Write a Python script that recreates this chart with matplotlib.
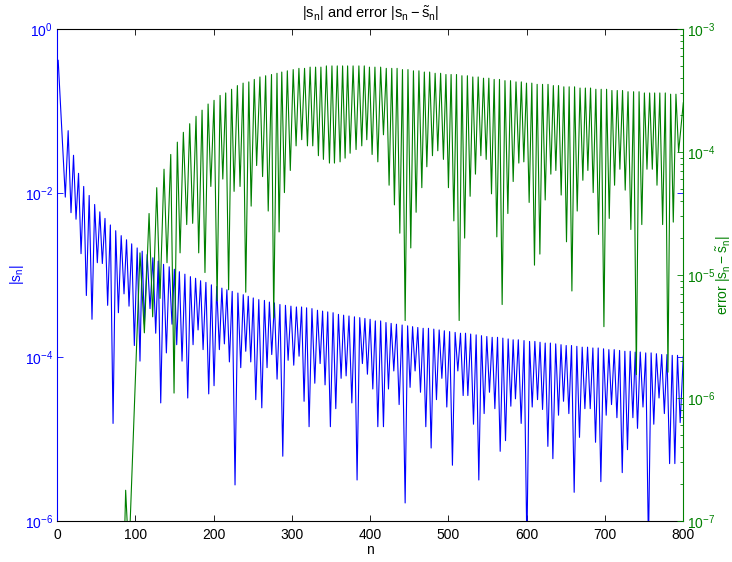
import numpy as np
import matplotlib
matplotlib.use('Agg')
import matplotlib.pyplot as plt
from matplotlib.ticker import FixedLocator, NullLocator, LogLocator, NullFormatter

plt.rcParams['font.family'] = ['Liberation Sans', 'DejaVu Sans']
plt.rcParams['mathtext.fontset'] = 'custom'
plt.rcParams['mathtext.rm'] = 'Liberation Sans'
plt.rcParams['mathtext.it'] = 'Liberation Sans'
plt.rcParams['mathtext.sf'] = 'Liberation Sans'
plt.rcParams['mathtext.bf'] = 'Liberation Sans:bold'

# ---------------- data (log10 of values) ----------------
# |s_n| : start, local minima (cusps) and local maxima between them
blue_head_n = [0.0, 1.5]
blue_head_v = [-0.45, -0.38]
blue_trough_n = [10.6, 17.9, 24.3, 30.7, 37.5, 44.7, 51.5, 57.9, 64.7, 71.6, 78.4, 85.6,
                 92.0, 98.8, 106.0, 111.6, 118.8, 126.1, 132.5, 139.7, 146.9, 152.9, 159.7, 167.0, 173.8, 180.2, 186.6, 193.8,
                 200.6, 207.4, 213.8, 220.2, 227.4, 234.7, 241.1, 247.5, 253.9, 261.6, 268.3, 274.3, 281.1, 288.4, 295.2, 302.4,
                 309.2, 315.6, 322.0, 329.3, 336.1, 342.4, 349.2, 356.1, 362.9, 369.3, 376.6, 383.3, 390.1, 396.5, 403.4, 409.8,
                 417.0, 423.4, 430.2, 437.0, 444.7, 451.0, 457.4, 464.3, 471.1, 477.9, 484.7, 491.6, 497.9, 505.1, 512.0, 518.8,
                 524.8, 532.0, 538.8, 545.6, 552.4, 559.3, 566.1, 572.9, 579.7, 585.6, 592.9, 600.2, 607.0, 613.8, 620.2, 627.0,
                 633.4, 640.6, 647.0, 653.8, 660.6, 667.4, 674.3, 681.1, 687.9, 694.7, 701.5, 708.3, 715.2, 722.0, 728.7, 735.6,
                 741.5, 748.5, 755.5, 762.3, 769.0, 775.8, 782.5, 789.2, 796.0]
blue_trough_v = [-2.05, -2.24, -2.32, -2.74, -3.25, -3.54, -2.85, -2.86, -3.37, -4.81, -3.46, -3.23,
                 -3.38, -3.86, -4.05, -3.60, -3.41, -3.71, -4.56, -3.95, -3.60, -3.85, -4.05, -4.50, -3.85, -3.67, -3.91, -4.45,
                 -4.35, -3.91, -3.84, -4.06, -5.56, -4.13, -3.93, -4.06, -4.52, -4.62, -4.13, -3.97, -4.27, -5.21, -4.04, -4.10,
                 -3.99, -4.54, -4.85, -4.32, -4.08, -4.34, -4.85, -4.63, -4.26, -4.23, -4.56, -5.50, -4.08, -4.21, -4.39, -4.85,
                 -4.85, -4.39, -4.17, -4.58, -5.78, -4.37, -4.17, -4.43, -4.85, -5.11, -4.52, -4.26, -4.61, -5.32, -4.17, -4.47,
                 -4.47, -4.82, -5.50, -4.69, -4.43, -4.63, -5.15, -5.02, -4.60, -4.51, -4.81, -6.30, -4.61, -4.52, -4.64, -5.09,
                 -5.24, -4.71, -4.54, -4.69, -5.65, -4.98, -4.63, -4.63, -5.04, -5.52, -4.71, -4.58, -4.74, -5.41, -5.13, -4.74,
                 -4.87, -4.61, -6.30, -4.82, -4.50, -4.69, -5.30, -5.30, -4.80]
blue_peak_v = [-1.24, -1.54, -1.76, -1.92, -2.03, -2.14, -2.23, -2.31, -2.39, -2.46, -2.52, -2.57,
               -2.62, -2.67, -2.71, -2.75, -2.79, -2.83, -2.87, -2.90, -2.93, -2.96, -2.99, -3.02, -3.04, -3.07, -3.09, -3.12,
               -3.14, -3.16, -3.18, -3.20, -3.22, -3.24, -3.26, -3.28, -3.30, -3.31, -3.33, -3.34, -3.36, -3.37, -3.38, -3.39,
               -3.39, -3.40, -3.41, -3.43, -3.44, -3.45, -3.46, -3.48, -3.49, -3.50, -3.51, -3.52, -3.53, -3.54, -3.56, -3.56,
               -3.58, -3.59, -3.60, -3.61, -3.62, -3.63, -3.64, -3.65, -3.65, -3.66, -3.67, -3.68, -3.69, -3.70, -3.71, -3.71,
               -3.72, -3.73, -3.74, -3.75, -3.76, -3.76, -3.77, -3.78, -3.79, -3.79, -3.80, -3.81, -3.81, -3.82, -3.83, -3.83,
               -3.84, -3.85, -3.86, -3.86, -3.87, -3.88, -3.88, -3.89, -3.89, -3.90, -3.91, -3.91, -3.92, -3.93, -3.93, -3.94,
               -3.94, -3.95, -3.95, -3.96, -3.97, -3.97, -3.98, -3.98]
blue_tail_n = [800.0]
blue_tail_v = [-3.99]

# error |s_n - s~_n| : local minima and maxima
green_trough_n = [84.5, 91.8, 111.6, 122.2, 131.6, 140.5, 149.5, 157.2, 165.7, 173.3, 181.0, 189.0, 196.5,
                  204.5, 211.8, 219.2, 226.2, 233.8, 241.1, 248.0, 255.0, 262.6, 269.8, 276.8, 283.7,
                  290.5, 298.0, 305.4, 312.6, 319.9, 326.7, 333.9, 340.3, 348.0, 354.4,
                  361.6, 368.0, 374.4, 382.0, 389.3, 395.7, 402.5, 409.8, 417.0, 424.2,
                  431.0, 437.9, 444.7, 451.9, 458.7, 466.0, 472.4, 479.6, 486.4, 493.6,
                  500.0, 506.9, 513.7, 520.7, 527.7, 534.5, 541.4, 548.2, 555.0, 561.8,
                  568.6, 575.9, 582.7, 589.9, 596.3, 603.1, 609.9, 616.8, 623.6, 630.8,
                  637.2, 644.0, 650.8, 657.7, 664.5, 671.7, 678.1, 684.9, 691.7, 698.6,
                  705.4, 712.2, 719.0, 725.8, 733.0, 740.0, 747.0, 753.6, 760.4, 766.4,
                  773.6, 780.4, 787.2, 794.0]
green_trough_v = [-7.60, -7.30, -5.47, -5.34, -5.19, -4.90, -5.96, -4.82, -4.59, -4.58, -4.82, -4.98, -4.28,
                  -5.21, -4.22, -5.12, -4.32, -4.28, -5.14, -4.44, -4.11, -4.20, -4.48, -5.35, -4.65,
                  -4.33, -4.15, -3.95, -3.90, -3.95, -3.95, -4.03, -4.06, -4.09, -4.09,
                  -4.08, -4.05, -4.01, -3.98, -3.95, -3.90, -4.02, -4.08, -3.86, -4.27,
                  -4.43, -4.66, -5.37, -4.78, -4.49, -4.29, -4.12, -4.03, -3.99, -4.06,
                  -4.29, -4.56, -5.37, -4.70, -4.36, -4.18, -4.03, -4.06, -4.34, -4.69,
                  -5.24, -4.50, -4.24, -4.09, -4.08, -4.41, -4.92, -4.83, -4.39, -4.18,
                  -4.15, -4.35, -4.73, -5.13, -4.48, -4.23, -4.15, -4.33, -4.67, -5.42,
                  -4.54, -4.27, -4.14, -4.31, -4.63, -5.81, -4.59, -4.14, -4.14, -4.27,
                  -4.59, -5.79, -4.57, -4.00]
green_peak_n = [87.7, 106.0, 117.6, 127.4, 136.7, 145.3, 153.7, 161.4, 169.5, 177.6, 185.3, 193.0,
                200.6, 208.3, 215.5, 223.0, 230.4, 237.7, 245.0, 252.0, 259.2, 266.5, 274.0, 281.0,
                287.1, 294.2, 301.7, 309.0, 316.2, 323.3, 330.3, 337.1, 344.1, 351.2,
                358.0, 364.8, 371.2, 378.2, 385.6, 392.5, 399.1, 406.1, 413.4, 420.6,
                427.6, 434.4, 441.3, 448.3, 455.3, 462.3, 469.2, 476.0, 483.0, 490.0,
                496.8, 503.4, 510.3, 517.2, 524.2, 531.1, 538.0, 544.8, 551.6, 558.4,
                565.2, 572.2, 579.3, 586.3, 593.1, 599.7, 606.5, 613.3, 620.2, 627.2,
                634.0, 640.6, 647.4, 654.2, 661.1, 668.1, 674.9, 681.5, 688.3, 695.1,
                702.0, 708.8, 715.6, 722.4, 729.4, 736.5, 743.5, 750.3, 757.0, 763.4,
                770.0, 777.0, 783.8, 790.6]
green_peak_v = [-6.75, -4.82, -4.50, -4.29, -4.14, -4.02, -3.92, -3.84, -3.77, -3.71, -3.66, -3.61,
                -3.58, -3.54, -3.52, -3.49, -3.46, -3.44, -3.43, -3.41, -3.39, -3.38, -3.37, -3.36,
                -3.35, -3.34, -3.33, -3.32, -3.32, -3.31, -3.31, -3.31, -3.30, -3.30,
                -3.30, -3.30, -3.30, -3.30, -3.30, -3.30, -3.31, -3.31, -3.31, -3.32,
                -3.32, -3.32, -3.33, -3.33, -3.34, -3.34, -3.35, -3.35, -3.36, -3.36,
                -3.37, -3.37, -3.37, -3.38, -3.38, -3.39, -3.39, -3.40, -3.40, -3.41,
                -3.41, -3.42, -3.42, -3.43, -3.43, -3.44, -3.44, -3.45, -3.45, -3.45,
                -3.46, -3.46, -3.47, -3.47, -3.47, -3.48, -3.48, -3.48, -3.49, -3.49,
                -3.49, -3.50, -3.50, -3.50, -3.51, -3.51, -3.51, -3.52, -3.52, -3.52,
                -3.52, -3.52, -3.53, -3.53]
green_tail_n = [800.0]
green_tail_v = [-3.60]

x_ticks = [0, 100, 200, 300, 400, 500, 600, 700, 800]
left_ticks = [1e-6, 1e-4, 1e-2, 1e0]
left_labels = [r'$10^{-6}$', r'$10^{-4}$', r'$10^{-2}$', r'$10^{0}$']
right_ticks = [1e-7, 1e-6, 1e-5, 1e-4, 1e-3]
right_labels = [r'$10^{-7}$', r'$10^{-6}$', r'$10^{-5}$', r'$10^{-4}$', r'$10^{-3}$']

BLUE = '#0000ff'
GREEN = '#008000'


def series(head_n, head_v, tn, tv, pn, pv, tail_n, tail_v):
    n = list(head_n)
    v = list(head_v)
    for i in range(len(tn)):
        n.append(tn[i]); v.append(tv[i])
        if i < len(pv) and i < len(pn):
            n.append(pn[i]); v.append(pv[i])
    n += list(tail_n)
    v += list(tail_v)
    return np.array(n), 10.0 ** np.array(v)


bt = np.array(blue_trough_n)
blue_peak_n = list((bt[:-1] + bt[1:]) / 2.0)
bx, by = series(blue_head_n, blue_head_v, blue_trough_n, blue_trough_v,
                blue_peak_n, blue_peak_v, blue_tail_n, blue_tail_v)
gx, gy = series([], [], green_trough_n, green_trough_v,
                green_peak_n, green_peak_v, green_tail_n, green_tail_v)

fig = plt.figure(figsize=(7.32, 5.62), dpi=100)
ax1 = fig.add_axes([57 / 732, 1 - 521 / 562, (683.3 - 57) / 732, (521 - 29) / 562])
ax2 = ax1.twinx()

ax1.plot(bx, by, color=BLUE, lw=0.8)
ax2.plot(gx, gy, color=GREEN, lw=0.8)

ax1.set_xlim(0, 800)
ax1.set_yscale('log')
ax1.set_ylim(1e-6, 1)
ax2.set_yscale('log')
ax2.set_ylim(1e-7, 1e-3)

ax1.xaxis.set_major_locator(FixedLocator(x_ticks))
ax1.set_xticklabels([str(t) for t in x_ticks])
ax1.yaxis.set_major_locator(FixedLocator(left_ticks))
ax1.set_yticklabels(left_labels)
ax1.yaxis.set_minor_locator(NullLocator())
ax2.yaxis.set_major_locator(FixedLocator(right_ticks))
ax2.set_yticklabels(right_labels)
ax2.yaxis.set_minor_locator(LogLocator(base=10, subs=np.arange(2, 10)))
ax2.yaxis.set_minor_formatter(NullFormatter())

ax1.tick_params(axis='x', direction='in', top=True, length=4, width=0.6,
                labelsize=10, colors='black', pad=5)
ax1.tick_params(axis='y', direction='in', right=True, length=4, width=0.6,
                labelsize=10, colors=BLUE, pad=3)
ax2.tick_params(axis='y', which='major', direction='in', length=4, width=0.6,
                labelsize=10, colors=GREEN, pad=3)
ax2.tick_params(axis='y', which='minor', direction='in', length=2.2, width=0.6,
                colors=GREEN)

for s in ['top', 'bottom']:
    ax1.spines[s].set_color('black')
    ax1.spines[s].set_linewidth(0.8)
ax1.spines['left'].set_color(BLUE)
ax1.spines['left'].set_linewidth(0.8)
ax1.spines['right'].set_visible(False)
ax2.spines['right'].set_color(GREEN)
ax2.spines['right'].set_linewidth(0.8)
for s in ['left', 'top', 'bottom']:
    ax2.spines[s].set_visible(False)

ax1.set_xlabel('n', fontsize=10, labelpad=1)
ax1.set_ylabel(r'$|s_n|$', color=BLUE, fontsize=10)
ax1.yaxis.set_label_coords(-0.050, 0.5)
ax2.set_ylabel(r'error $|s_n - \tilde{s}_n|$', color=GREEN, fontsize=10)
ax2.yaxis.set_label_coords(1.0495, 0.5)
ax1.set_title(r'$|s_n|$ and error $|s_n - \tilde{s}_n|$', fontsize=10.5, pad=8)

fig.savefig('out.png', dpi=100)
